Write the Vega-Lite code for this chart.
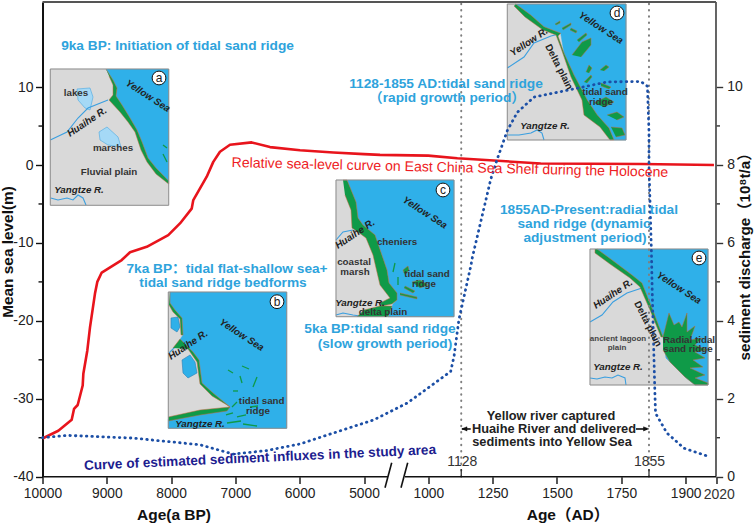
{
"$schema":"https://vega.github.io/schema/vega-lite/v6.json",
"autosize":{"type":"none"},
"padding":{"left":42.5,"top":2,"right":38,"bottom":48},
"width":673.5,"height":474.7,
"background":"white",
"config":{"view":{"stroke":null},"text":{"font":"Liberation Sans, Noto Sans CJK SC"},"axis":{"labelFont":"Liberation Sans","grid":false}},
"datasets":{
"land":[
{"s":"a","x":50.3,"y":69},{"s":"a","x":168.7,"y":69},{"s":"a","x":168.7,"y":205.3},{"s":"a","x":50.3,"y":205.3},{"s":"a","x":50.3,"y":69},
{"s":"b","x":168.3,"y":292},{"s":"b","x":286.7,"y":292},{"s":"b","x":286.7,"y":428.3},{"s":"b","x":168.3,"y":428.3},{"s":"b","x":168.3,"y":292},
{"s":"c","x":336,"y":180},{"s":"c","x":454,"y":180},{"s":"c","x":454,"y":316.7},{"s":"c","x":336,"y":316.7},{"s":"c","x":336,"y":180},
{"s":"d","x":507.3,"y":4},{"s":"d","x":626,"y":4},{"s":"d","x":626,"y":140},{"s":"d","x":507.3,"y":140},{"s":"d","x":507.3,"y":4},
{"s":"e","x":590,"y":249},{"s":"e","x":708,"y":249},{"s":"e","x":708,"y":385},{"s":"e","x":590,"y":385},{"s":"e","x":590,"y":249}],
"sea":[
{"s":"a","x":106,"y":69},{"s":"a","x":113,"y":80},{"s":"a","x":117,"y":88},{"s":"a","x":116,"y":96},{"s":"a","x":122,"y":105},{"s":"a","x":130,"y":118},{"s":"a","x":137,"y":130},{"s":"a","x":142,"y":142},{"s":"a","x":148,"y":158},{"s":"a","x":156,"y":168},{"s":"a","x":168.7,"y":181},{"s":"a","x":168.7,"y":69},
{"s":"b","x":170,"y":292},{"s":"b","x":170,"y":303},{"s":"b","x":175,"y":310},{"s":"b","x":182,"y":318},{"s":"b","x":183,"y":335},{"s":"b","x":179,"y":341},{"s":"b","x":193,"y":352},{"s":"b","x":199,"y":360},{"s":"b","x":202,"y":383},{"s":"b","x":213,"y":393},{"s":"b","x":230,"y":407},{"s":"b","x":227,"y":410},{"s":"b","x":200,"y":414},{"s":"b","x":168.3,"y":419},{"s":"b","x":168.3,"y":428.3},{"s":"b","x":286.7,"y":428.3},{"s":"b","x":286.7,"y":292},
{"s":"c","x":347,"y":180},{"s":"c","x":356,"y":202},{"s":"c","x":358,"y":218},{"s":"c","x":363,"y":225},{"s":"c","x":375,"y":235},{"s":"c","x":387,"y":270},{"s":"c","x":389,"y":283},{"s":"c","x":397,"y":293},{"s":"c","x":397,"y":300},{"s":"c","x":393,"y":304},{"s":"c","x":388,"y":316.7},{"s":"c","x":454,"y":316.7},{"s":"c","x":454,"y":180},
{"s":"d","x":515.7,"y":4},{"s":"d","x":530.7,"y":15},{"s":"d","x":544,"y":26.7},{"s":"d","x":560.7,"y":33.3},{"s":"d","x":564,"y":53},{"s":"d","x":574,"y":75},{"s":"d","x":587.3,"y":100},{"s":"d","x":597.3,"y":115},{"s":"d","x":609,"y":128},{"s":"d","x":614,"y":140},{"s":"d","x":626,"y":140},{"s":"d","x":626,"y":4},
{"s":"e","x":597,"y":249},{"s":"e","x":612,"y":260},{"s":"e","x":632,"y":275},{"s":"e","x":642,"y":283},{"s":"e","x":652,"y":308},{"s":"e","x":663,"y":337},{"s":"e","x":666,"y":358},{"s":"e","x":685,"y":377},{"s":"e","x":695,"y":385},{"s":"e","x":708,"y":385},{"s":"e","x":708,"y":249}],
"lakes":[
{"s":"a1","x":77,"y":89},{"s":"a1","x":90,"y":88},{"s":"a1","x":93,"y":97},{"s":"a1","x":90,"y":110},{"s":"a1","x":85,"y":108},{"s":"a1","x":78,"y":100},{"s":"a1","x":77,"y":89},
{"s":"a2","x":99,"y":132},{"s":"a2","x":107,"y":127},{"s":"a2","x":118,"y":137},{"s":"a2","x":121,"y":147},{"s":"a2","x":108,"y":145},{"s":"a2","x":100,"y":140},{"s":"a2","x":99,"y":132}],
"lakesDark":[
{"s":"b1","x":171,"y":318},{"s":"b1","x":178,"y":317},{"s":"b1","x":180,"y":327},{"s":"b1","x":177,"y":332},{"s":"b1","x":171,"y":328},{"s":"b1","x":171,"y":318},
{"s":"b2","x":182,"y":360},{"s":"b2","x":190,"y":355},{"s":"b2","x":195,"y":362},{"s":"b2","x":197,"y":373},{"s":"b2","x":188,"y":378},{"s":"b2","x":183,"y":373},{"s":"b2","x":182,"y":360}],
"rivers":[
{"s":"a1","x":50.3,"y":140},{"s":"a1","x":67,"y":132},{"s":"a1","x":78,"y":118},{"s":"a1","x":88,"y":108},{"s":"a1","x":108,"y":100},
{"s":"a2","x":50.7,"y":198},{"s":"a2","x":58,"y":200},{"s":"a2","x":67,"y":198},{"s":"a2","x":73,"y":200},{"s":"a2","x":78,"y":195},{"s":"a2","x":83,"y":198},{"s":"a2","x":86,"y":205},
{"s":"b1","x":169,"y":353},{"s":"b1","x":175,"y":347},
{"s":"c1","x":336,"y":240},{"s":"c1","x":343,"y":232},{"s":"c1","x":353,"y":230},
{"s":"c2","x":336,"y":315},{"s":"c2","x":343,"y":313},{"s":"c2","x":353,"y":315},{"s":"c2","x":360,"y":316},
{"s":"d1","x":507.3,"y":68},{"s":"d1","x":524,"y":57},{"s":"d1","x":534,"y":43},{"s":"d1","x":551,"y":36},{"s":"d1","x":559,"y":34},
{"s":"d2","x":507.3,"y":135},{"s":"d2","x":519,"y":135},{"s":"d2","x":531,"y":133},{"s":"d2","x":537,"y":130},{"s":"d2","x":542,"y":133},{"s":"d2","x":544,"y":140},
{"s":"e1","x":590,"y":322},{"s":"e1","x":602,"y":315},{"s":"e1","x":613,"y":302},{"s":"e1","x":627,"y":293},{"s":"e1","x":642,"y":288},
{"s":"e2","x":590,"y":378},{"s":"e2","x":597,"y":379},{"s":"e2","x":605,"y":377},{"s":"e2","x":612,"y":378},{"s":"e2","x":618,"y":375},{"s":"e2","x":625,"y":378},{"s":"e2","x":626,"y":385}],
"green":[
{"s":"a","x":106,"y":69},{"s":"a","x":113,"y":80},{"s":"a","x":117,"y":88},{"s":"a","x":116,"y":96},{"s":"a","x":122,"y":105},{"s":"a","x":130,"y":118},{"s":"a","x":137,"y":130},{"s":"a","x":142,"y":142},{"s":"a","x":148,"y":158},{"s":"a","x":156,"y":168},{"s":"a","x":168.7,"y":181},{"s":"a","x":168.7,"y":184},{"s":"a","x":156,"y":174},{"s":"a","x":147,"y":162},{"s":"a","x":141,"y":150},{"s":"a","x":135,"y":132},{"s":"a","x":128,"y":122},{"s":"a","x":120,"y":112},{"s":"a","x":109,"y":100},{"s":"a","x":113,"y":95},{"s":"a","x":113,"y":85},{"s":"a","x":109,"y":76},
{"s":"b0","x":170,"y":292},{"s":"b0","x":170,"y":303},{"s":"b0","x":175,"y":310},{"s":"b0","x":182,"y":318},{"s":"b0","x":183,"y":335},{"s":"b0","x":181,"y":335},{"s":"b0","x":180,"y":319},{"s":"b0","x":173,"y":312},{"s":"b0","x":169,"y":305},
{"s":"b1","x":173,"y":348},{"s":"b1","x":180,"y":339},{"s":"b1","x":193,"y":352},{"s":"b1","x":199,"y":360},{"s":"b1","x":202,"y":383},{"s":"b1","x":213,"y":393},{"s":"b1","x":230,"y":407},{"s":"b1","x":227,"y":405},{"s":"b1","x":212,"y":396},{"s":"b1","x":200,"y":384},{"s":"b1","x":197,"y":362},{"s":"b1","x":188,"y":349},
{"s":"b2","x":168.3,"y":417},{"s":"b2","x":200,"y":410},{"s":"b2","x":230,"y":407},{"s":"b2","x":227,"y":411},{"s":"b2","x":200,"y":415},{"s":"b2","x":168.3,"y":421},
{"s":"c0","x":343,"y":180},{"s":"c0","x":347,"y":180},{"s":"c0","x":356,"y":202},{"s":"c0","x":358,"y":218},{"s":"c0","x":363,"y":225},{"s":"c0","x":375,"y":235},{"s":"c0","x":387,"y":270},{"s":"c0","x":389,"y":283},{"s":"c0","x":397,"y":293},{"s":"c0","x":397,"y":300},{"s":"c0","x":392,"y":304},{"s":"c0","x":382,"y":306},{"s":"c0","x":380,"y":303},{"s":"c0","x":390,"y":298},{"s":"c0","x":380,"y":285},{"s":"c0","x":373,"y":255},{"s":"c0","x":366,"y":238},{"s":"c0","x":358,"y":232},{"s":"c0","x":352,"y":228},{"s":"c0","x":351,"y":210},{"s":"c0","x":345,"y":195},
{"s":"c1","x":357,"y":316.7},{"s":"c1","x":364,"y":310},{"s":"c1","x":380,"y":306},{"s":"c1","x":392,"y":306},{"s":"c1","x":388,"y":316.7},
{"s":"c2","x":404,"y":273},{"s":"c2","x":403,"y":270},{"s":"c2","x":408,"y":266},{"s":"c2","x":409,"y":270},{"s":"c2","x":405,"y":275},
{"s":"c3","x":412,"y":282},{"s":"c3","x":420,"y":280},{"s":"c3","x":428,"y":285},{"s":"c3","x":420,"y":288},
{"s":"c4","x":405,"y":286},{"s":"c4","x":415,"y":291},{"s":"c4","x":413,"y":293},{"s":"c4","x":404,"y":288},
{"s":"c5","x":400,"y":293},{"s":"c5","x":417,"y":297},{"s":"c5","x":417,"y":299},{"s":"c5","x":400,"y":295},
{"s":"d0","x":515.7,"y":4},{"s":"d0","x":530.7,"y":15},{"s":"d0","x":544,"y":26.7},{"s":"d0","x":560.7,"y":33.3},{"s":"d0","x":558,"y":36},{"s":"d0","x":564,"y":53},{"s":"d0","x":574,"y":75},{"s":"d0","x":587.3,"y":100},{"s":"d0","x":597.3,"y":115},{"s":"d0","x":609,"y":128},{"s":"d0","x":614,"y":140},{"s":"d0","x":610,"y":140},{"s":"d0","x":600,"y":127},{"s":"d0","x":584,"y":115},{"s":"d0","x":582,"y":100},{"s":"d0","x":571,"y":77},{"s":"d0","x":561,"y":48},{"s":"d0","x":556,"y":35},{"s":"d0","x":543,"y":30},{"s":"d0","x":525,"y":17},{"s":"d0","x":514,"y":6},
{"s":"d1","x":572,"y":55},{"s":"d1","x":582,"y":42},{"s":"d1","x":591,"y":38},{"s":"d1","x":591,"y":45},{"s":"d1","x":581,"y":57},
{"s":"d2","x":577,"y":40},{"s":"d2","x":586,"y":33},{"s":"d2","x":587,"y":35},{"s":"d2","x":579,"y":42},
{"s":"d3","x":571,"y":28},{"s":"d3","x":577,"y":31},{"s":"d3","x":576,"y":33},{"s":"d3","x":570,"y":30},
{"s":"d4","x":562,"y":28},{"s":"d4","x":571,"y":23},{"s":"d4","x":571,"y":25},{"s":"d4","x":563,"y":30},
{"s":"d5","x":555,"y":24},{"s":"d5","x":560,"y":21},{"s":"d5","x":560,"y":23},{"s":"d5","x":556,"y":25},
{"s":"d6","x":586,"y":72},{"s":"d6","x":589,"y":65},{"s":"d6","x":592,"y":68},{"s":"d6","x":589,"y":73},
{"s":"d7","x":600,"y":70},{"s":"d7","x":606,"y":65},{"s":"d7","x":609,"y":67},{"s":"d7","x":604,"y":71},
{"s":"d8","x":584,"y":82},{"s":"d8","x":591,"y":75},{"s":"d8","x":592,"y":77},{"s":"d8","x":587,"y":83},
{"s":"d9","x":601,"y":83},{"s":"d9","x":611,"y":87},{"s":"d9","x":609,"y":89},{"s":"d9","x":601,"y":86},
{"s":"d10","x":594,"y":103},{"s":"d10","x":606,"y":97},{"s":"d10","x":614,"y":102},{"s":"d10","x":604,"y":107},
{"s":"d11","x":607,"y":115},{"s":"d11","x":617,"y":112},{"s":"d11","x":624,"y":117},{"s":"d11","x":617,"y":120},
{"s":"d12","x":611,"y":127},{"s":"d12","x":622,"y":128},{"s":"d12","x":625,"y":135},{"s":"d12","x":616,"y":137},
{"s":"e0","x":597,"y":249},{"s":"e0","x":612,"y":260},{"s":"e0","x":632,"y":275},{"s":"e0","x":642,"y":283},{"s":"e0","x":652,"y":308},{"s":"e0","x":663,"y":337},{"s":"e0","x":661,"y":337},{"s":"e0","x":650,"y":310},{"s":"e0","x":640,"y":287},{"s":"e0","x":630,"y":278},{"s":"e0","x":610,"y":264},{"s":"e0","x":595,"y":253},{"s":"e0","x":595,"y":249},
{"s":"e1","x":663,"y":337},{"s":"e1","x":669,"y":313},{"s":"e1","x":674,"y":325},{"s":"e1","x":679,"y":322},{"s":"e1","x":682,"y":327},{"s":"e1","x":687,"y":313},{"s":"e1","x":687,"y":332},{"s":"e1","x":695,"y":326},{"s":"e1","x":690,"y":340},{"s":"e1","x":702,"y":338},{"s":"e1","x":695,"y":345},{"s":"e1","x":707,"y":350},{"s":"e1","x":695,"y":352},{"s":"e1","x":705,"y":358},{"s":"e1","x":693,"y":360},{"s":"e1","x":703,"y":367},{"s":"e1","x":690,"y":368},{"s":"e1","x":705,"y":375},{"s":"e1","x":695,"y":378},{"s":"e1","x":708,"y":383},{"s":"e1","x":708,"y":385},{"s":"e1","x":695,"y":385},{"s":"e1","x":685,"y":377},{"s":"e1","x":670,"y":362},{"s":"e1","x":663,"y":350}],
"dashes":[
{"x":163,"y":145,"x2":167,"y2":148},{"x":163,"y":154,"x2":167,"y2":162},
{"x":228,"y":370,"x2":233,"y2":373},{"x":242,"y":366,"x2":249,"y2":369},{"x":240,"y":376,"x2":242,"y2":383},{"x":257,"y":377,"x2":253,"y2":387},{"x":233,"y":391,"x2":238,"y2":391},{"x":232,"y":407,"x2":237,"y2":402},{"x":226,"y":415,"x2":233,"y2":413},{"x":237,"y":417,"x2":246,"y2":415},{"x":227,"y":423,"x2":241,"y2":421},{"x":243,"y":424,"x2":257,"y2":426},{"x":250,"y":407,"x2":258,"y2":406},
{"x":395,"y":263,"x2":393,"y2":272},{"x":398,"y":277,"x2":398,"y2":285}],
"frame":[
{"x":42.5,"y":2,"x2":716,"y2":2},{"x":716,"y":2,"x2":716,"y2":476.7}],
"baseline":[
{"x":42.5,"y":476.7,"x2":388,"y2":476.7},{"x":405,"y":476.7,"x2":716,"y2":476.7},
{"x":391.7,"y":462.7,"x2":385,"y2":487.7},{"x":407.7,"y":462.7,"x2":401,"y2":487.7},
{"x":462,"y":429,"x2":470.7,"y2":429},{"x":636,"y":429,"x2":647,"y2":429}],
"arrowHeads":[
{"s":"l","x":461.5,"y":429},{"s":"l","x":467,"y":426.8},{"s":"l","x":467,"y":431.2},
{"s":"r","x":649,"y":429},{"s":"r","x":643.5,"y":426.8},{"s":"r","x":643.5,"y":431.2}],
"seaLevel":[
{"year":-8050,"m":-35.1},{"year":-7804,"m":-34.1},{"year":-7596,"m":-32.7},{"year":-7560,"m":-31.3},{"year":-7503,"m":-30.8},{"year":-7425,"m":-28.3},{"year":-7415,"m":-26.8},{"year":-7353,"m":-23.8},{"year":-7311,"m":-20.8},{"year":-7234,"m":-16.5},{"year":-7198,"m":-15.0},{"year":-7129,"m":-13.8},{"year":-6818,"m":-12.2},{"year":-6689,"m":-11.2},{"year":-6429,"m":-10.5},{"year":-6094,"m":-9.0},{"year":-5912,"m":-7.5},{"year":-5730,"m":-5.6},{"year":-5705,"m":-4.5},{"year":-5496,"m":-1.5},{"year":-5394,"m":0.4},{"year":-5290,"m":1.7},{"year":-5134,"m":2.6},{"year":-4797,"m":2.9},{"year":-4512,"m":2.3},{"year":-4045,"m":1.9},{"year":-3527,"m":1.6},{"year":-3050,"m":1.4},{"year":-2042,"m":1.3},{"year":1000,"m":1.2},{"year":1113,"m":0.86},{"year":1437,"m":0.2},{"year":1824,"m":0.13},{"year":2012,"m":0}],
"sediment":[
{"year":-8050,"q":1.0},{"year":-7674,"q":1.06},{"year":-6638,"q":0.99},{"year":-5601,"q":0.82},{"year":-5083,"q":0.58},{"year":-4563,"q":0.67},{"year":-4045,"q":0.84},{"year":-3527,"q":1.12},{"year":-2420,"q":1.46},{"year":-2042,"q":1.54},{"year":-323,"q":1.89},{"year":1087,"q":2.7},{"year":1100,"q":3.09},{"year":1119,"q":4.03},{"year":1165,"q":5.4},{"year":1171,"q":5.62},{"year":1243,"q":7.64},{"year":1268,"q":8.15},{"year":1307,"q":8.88},{"year":1346,"q":9.35},{"year":1411,"q":9.74},{"year":1566,"q":9.95},{"year":1696,"q":10.13},{"year":1824,"q":10.14},{"year":1849,"q":10.02},{"year":1855,"q":8.84},{"year":1855,"q":7.98},{"year":1858,"q":5.75},{"year":1859,"q":4.72},{"year":1862,"q":2.32},{"year":1863,"q":1.63},{"year":1877,"q":1.12},{"year":1898,"q":0.73},{"year":1986,"q":0.53}],
"markerLines":[{"year":1128,"lo":-40,"hi":20.92},{"year":1855,"lo":-40,"hi":20.92}],
"markerTicks":[{"year":1128,"lo":-40,"hi":-39},{"year":1855,"lo":-40,"hi":-39}],
"minorLeft":[{"year":-8050,"m":-35},{"year":-8050,"m":-25},{"year":-8050,"m":-15},{"year":-8050,"m":-5},{"year":-8050,"m":5}],
"minorRight":[{"year":2020,"q":1},{"year":2020,"q":3},{"year":2020,"q":5},{"year":2020,"q":7},{"year":2020,"q":9}],
"blueText":[
{"t":"9ka BP: Initiation of tidal sand ridge","x":177.5,"y":46},
{"t":"1128-1855 AD:tidal sand ridge","x":446,"y":84},
{"t":"（rapid growth period）","x":447,"y":98},
{"t":"7ka BP：tidal flat-shallow sea+","x":227,"y":269},
{"t":"tidal sand ridge bedforms","x":223,"y":283},
{"t":"5ka BP:tidal sand ridge","x":380,"y":329},
{"t":"(slow growth period)","x":385,"y":344},
{"t":"1855AD-Present:radial tidal","x":589,"y":210},
{"t":"sand ridge (dynamic","x":584,"y":224},
{"t":"adjustment period)","x":585,"y":238}],
"blackText":[
{"t":"Yellow river captured","x":551,"y":416},
{"t":"Huaihe River and delivered","x":554,"y":429},
{"t":"sediments into Yellow Sea","x":552,"y":442}],
"axisTitles":[
{"t":"Age(a  BP)","x":174,"y":515},
{"t":"Age（AD）","x":568,"y":515}],
"plainMap":[
{"t":"lakes","x":76,"y":93},{"t":"marshes","x":113,"y":148},{"t":"Fluvial plain","x":109,"y":172},
{"t":"tidal sand","x":261.7,"y":400.7},{"t":"ridge","x":258,"y":410.7},
{"t":"cheniers","x":397,"y":241.7},{"t":"coastal","x":354,"y":262},{"t":"marsh","x":355,"y":272},{"t":"tidal sand","x":427,"y":274},{"t":"ridge","x":424,"y":284},{"t":"delta plain","x":383,"y":311.7},
{"t":"tidal sand","x":605,"y":92},{"t":"ridge","x":601,"y":102},
{"t":"Radial tidal","x":689,"y":340},{"t":"sand ridge","x":688,"y":349}],
"tinyMap":[{"t":"ancient lagoon","x":618,"y":339},{"t":"plain","x":617,"y":348}],
"riverNames":[
{"t":"Yangtze R.","x":79,"y":190},{"t":"Yangtze R.","x":200,"y":424},{"t":"Yangtze R.","x":360,"y":302.7},{"t":"Yangtze R.","x":545,"y":126},{"t":"Yangtze R.","x":618,"y":367}],
"seaNames":[
{"t":"Yellow Sea","x":148,"y":96},{"t":"Yellow Sea","x":241.7,"y":335},{"t":"Yellow Sea","x":425,"y":212.7},{"t":"Yellow Sea","x":601,"y":28},{"t":"Yellow Sea","x":679,"y":288}],
"upRivers":[
{"t":"Huaihe R.","x":87,"y":122},{"t":"Huaihe R.","x":188,"y":345},{"t":"Huaihe R.","x":355,"y":234},{"t":"Yellow R.","x":529,"y":42},{"t":"Huaihe R.","x":613,"y":294}],
"deltaNames":[{"t":"Delta plain","x":559,"y":67},{"t":"Delta plain","x":648,"y":324}],
"panels":[
{"t":"a","x":159,"y":78},{"t":"b","x":277,"y":301.7},{"t":"c","x":443,"y":190},{"t":"d","x":617,"y":13},{"t":"e","x":699,"y":258}]
},
"resolve":{"scale":{"x":"independent","y":"independent"}},
"layer":[
{
"encoding":{
"x":{"field":"x","type":"quantitative","axis":null,"scale":{"domain":[42.5,716],"nice":false,"zero":false}},
"y":{"field":"y","type":"quantitative","axis":null,"scale":{"domain":[476.7,2],"nice":false,"zero":false}}
},
"layer":[
{"data":{"name":"land"},"mark":{"type":"line","fill":"#d9d9d9","stroke":"#d9d9d9","strokeWidth":0.5},"encoding":{"detail":{"field":"s"},"order":{"value":null}}},
{"data":{"name":"sea"},"mark":{"type":"line","fill":"#2fb0e9","stroke":"#2fb0e9","strokeWidth":0.5},"encoding":{"detail":{"field":"s"},"order":{"value":null}}},
{"data":{"name":"lakes"},"mark":{"type":"line","fill":"#a5d9f6","stroke":"#4aa8e0","strokeWidth":0.6},"encoding":{"detail":{"field":"s"},"order":{"value":null}}},
{"data":{"name":"lakesDark"},"mark":{"type":"line","fill":"#2fb0e9","stroke":"#2b7fb5","strokeWidth":0.6},"encoding":{"detail":{"field":"s"},"order":{"value":null}}},
{"data":{"name":"rivers"},"mark":{"type":"line","stroke":"#3a9fe0","strokeWidth":1.1},"encoding":{"detail":{"field":"s"},"order":{"value":null}}},
{"data":{"name":"green"},"mark":{"type":"line","fill":"#0f9a48","stroke":"#c9683c","strokeWidth":0.5},"encoding":{"detail":{"field":"s"},"order":{"value":null}}},
{"data":{"name":"dashes"},"mark":{"type":"rule","color":"#0f9a48","strokeWidth":1.3},"encoding":{"x2":{"field":"x2"},"y2":{"field":"y2"}}},
{"data":{"name":"land"},"mark":{"type":"line","stroke":"#8e8e8e","strokeWidth":1},"encoding":{"detail":{"field":"s"},"order":{"value":null}}}
]
},
{
"encoding":{
"x":{"field":"year","type":"quantitative","title":null,
"scale":{"domain":[-8050,-3050,1000,1750,1855,1900,2020],"range":[0,321.5,385.8,578.8,606.5,643.2,673.5],"nice":false,"zero":false},
"axis":{"orient":"bottom","domain":false,"values":[-8050,-7050,-6050,-5050,-4050,-3050,1000,1250,1500,1750,1900,2020],"labelExpr":"datum.value<0?toString(1950-datum.value):(datum.value==2020?'':toString(datum.value))","labelFontSize":13.8,"labelColor":"#222","tickSize":6.7,"tickWidth":1.4,"tickColor":"#111","labelPadding":3.5,"labelOverlap":false,"labelFlush":false,"labelBound":false}},
"y":{"field":"m","type":"quantitative","title":null,
"scale":{"domain":[-40,20.92],"nice":false,"zero":false},
"axis":{"orient":"left","values":[-40,-30,-20,-10,0,10],"labelExpr":"toString(datum.value)","labelFontSize":14,"labelColor":"#222","tickSize":7,"tickWidth":1.4,"tickColor":"#111","domainColor":"#111","domainWidth":2,"labelPadding":2.5}}
},
"layer":[
{"data":{"name":"markerLines"},"mark":{"type":"rule","color":"#7f7f7f","strokeWidth":2,"strokeDash":[0.5,5.8],"strokeCap":"round"},"encoding":{"y":{"field":"lo","type":"quantitative"},"y2":{"field":"hi"}}},
{"data":{"name":"markerTicks"},"mark":{"type":"rule","color":"#222","strokeWidth":1.2},"encoding":{"y":{"field":"lo","type":"quantitative"},"y2":{"field":"hi"}}},
{"data":{"name":"minorLeft"},"mark":{"type":"rule","color":"#111","strokeWidth":1.4,"x2Offset":-4},"encoding":{"x2":{"field":"year"}}},
{"data":{"name":"seaLevel"},"mark":{"type":"line","color":"#e8141c","strokeWidth":2.6,"strokeJoin":"round"}}
]
},
{
"encoding":{
"x":{"field":"year","type":"quantitative","axis":null,
"scale":{"domain":[-8050,-3050,1000,1750,1855,1900,2020],"range":[0,321.5,385.8,578.8,606.5,643.2,673.5],"nice":false,"zero":false}},
"y":{"field":"q","type":"quantitative","title":null,
"scale":{"domain":[0,12.18],"nice":false,"zero":false},
"axis":{"orient":"right","values":[0,2,4,6,8,10],"domain":false,"labelFontSize":14,"labelColor":"#222","tickSize":6.7,"tickWidth":1.4,"tickColor":"#333","labelPadding":4}}
},
"layer":[
{"data":{"name":"minorRight"},"mark":{"type":"rule","color":"#333","strokeWidth":1.4,"x2Offset":4},"encoding":{"x2":{"field":"year"}}},
{"data":{"name":"sediment"},"mark":{"type":"line","color":"#1c4fa6","strokeWidth":2.8,"strokeDash":[0.5,5],"strokeCap":"round"},"encoding":{"order":{"value":null}}}
]
},
{
"encoding":{
"x":{"field":"x","type":"quantitative","axis":null,"scale":{"domain":[42.5,716],"nice":false,"zero":false}},
"y":{"field":"y","type":"quantitative","axis":null,"scale":{"domain":[476.7,2],"nice":false,"zero":false}}
},
"layer":[
{"data":{"name":"frame"},"mark":{"type":"rule","color":"#555","strokeWidth":1.8},"encoding":{"x2":{"field":"x2"},"y2":{"field":"y2"}}},
{"data":{"name":"baseline"},"mark":{"type":"rule","color":"#111","strokeWidth":1.6},"encoding":{"x2":{"field":"x2"},"y2":{"field":"y2"}}},
{"data":{"name":"arrowHeads"},"mark":{"type":"line","fill":"#111","stroke":"#111","strokeWidth":0.5},"encoding":{"detail":{"field":"s"},"order":{"value":null}}},
{"data":{"name":"panels"},"mark":{"type":"point","filled":true,"fill":"white","stroke":"#111","strokeWidth":1,"size":190,"opacity":1}},
{"data":{"name":"panels"},"mark":{"type":"text","fontSize":12,"color":"#222","baseline":"middle"},"encoding":{"text":{"field":"t"}}},
{"data":{"name":"blueText"},"mark":{"type":"text","fontSize":13.7,"fontWeight":"bold","color":"#2ea3dc","baseline":"middle"},"encoding":{"text":{"field":"t"}}},
{"data":{"values":[{"t":"Relative sea-level curve on East China Sea Shelf during the Holocene","x":450,"y":168}]},"mark":{"type":"text","fontSize":14.1,"color":"#ee1c24","baseline":"middle","angle":1.3},"encoding":{"text":{"field":"t"}}},
{"data":{"values":[{"t":"Curve of estimated sediment influxes in the study area","x":260,"y":458}]},"mark":{"type":"text","fontSize":13.6,"fontWeight":"bold","color":"#1d1d8f","baseline":"middle","angle":357.4},"encoding":{"text":{"field":"t"}}},
{"data":{"name":"blackText"},"mark":{"type":"text","fontSize":12.8,"fontWeight":"bold","color":"#222","baseline":"middle"},"encoding":{"text":{"field":"t"}}},
{"data":{"name":"axisTitles"},"mark":{"type":"text","fontSize":15.5,"fontWeight":"bold","color":"#111","baseline":"middle"},"encoding":{"text":{"field":"t"}}},
{"data":{"values":[{"t":"1128","x":462.3,"y":461.7},{"t":"1855","x":649.5,"y":461.7},{"t":"2020","x":719.3,"y":495}]},"mark":{"type":"text","fontSize":14,"color":"#333","baseline":"middle"},"encoding":{"text":{"field":"t"}}},
{"data":{"values":[{"t":"Mean sea level(m)","x":8,"y":252}]},"mark":{"type":"text","fontSize":15.4,"fontWeight":"bold","color":"#111","baseline":"middle","angle":270},"encoding":{"text":{"field":"t"}}},
{"data":{"values":[{"t":"sediment discharge（10⁸t/a）","x":745,"y":253}]},"mark":{"type":"text","fontSize":15.2,"fontWeight":"bold","color":"#111","baseline":"middle","angle":270},"encoding":{"text":{"field":"t"}}},
{"data":{"name":"plainMap"},"mark":{"type":"text","fontSize":9.8,"fontWeight":"bold","color":"#333","baseline":"middle"},"encoding":{"text":{"field":"t"}}},
{"data":{"name":"tinyMap"},"mark":{"type":"text","fontSize":8,"fontWeight":"bold","color":"#444","baseline":"middle"},"encoding":{"text":{"field":"t"}}},
{"data":{"name":"riverNames"},"mark":{"type":"text","fontSize":9.8,"fontWeight":"bold","fontStyle":"italic","color":"#222","baseline":"middle"},"encoding":{"text":{"field":"t"}}},
{"data":{"name":"seaNames"},"mark":{"type":"text","fontSize":9.8,"fontWeight":"bold","fontStyle":"italic","color":"#222","baseline":"middle","angle":33},"encoding":{"text":{"field":"t"}}},
{"data":{"name":"upRivers"},"mark":{"type":"text","fontSize":9.8,"fontWeight":"bold","fontStyle":"italic","color":"#222","baseline":"middle","angle":326},"encoding":{"text":{"field":"t"}}},
{"data":{"name":"deltaNames"},"mark":{"type":"text","fontSize":9.8,"fontWeight":"bold","color":"#222","baseline":"middle","angle":63},"encoding":{"text":{"field":"t"}}}
]
}
]
}
